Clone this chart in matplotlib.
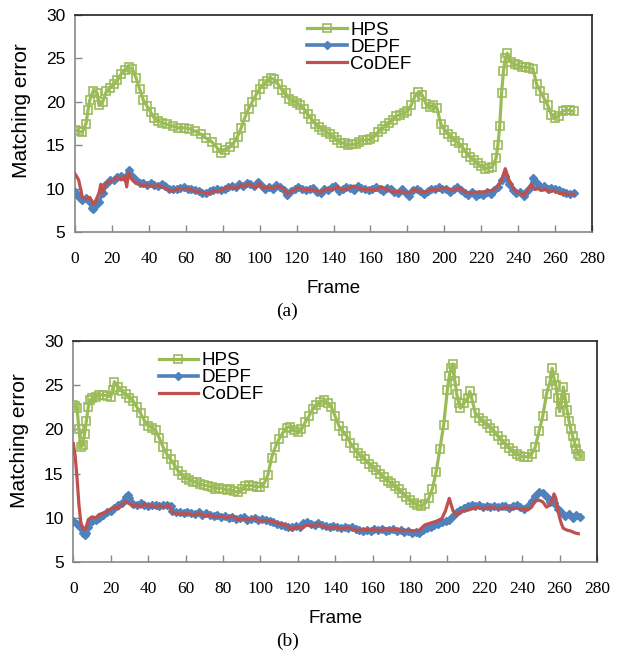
import matplotlib.pyplot as plt

# ---- panel (a) ----
hps_a_x = [0, 2, 4, 6, 7, 8, 10, 12, 13, 15, 17, 19, 21, 23, 25, 27, 29, 31, 33, 35, 37, 39, 41, 43, 45, 47,
           50, 53, 56, 59, 62, 65, 68, 71, 74, 77, 79, 81, 84, 86, 88, 90, 92, 94, 96, 98, 100, 102, 104, 106,
           108, 110, 112, 114, 116, 118, 120, 122, 124, 126, 128, 130, 132, 134, 136, 138, 140, 142, 144, 146,
           148, 150, 152, 154, 156, 158, 160, 162, 164, 166, 168, 170, 172, 174, 176, 178, 180, 182, 184, 186,
           188, 190, 192, 194, 196, 198, 200, 202, 204, 206, 208, 210, 212, 214, 216, 218, 220, 222, 224, 226,
           228, 229, 230, 231, 232, 233, 234, 236, 238, 240, 242, 244, 246, 248, 250, 252, 254, 256, 258, 260,
           262, 264, 266, 268, 270]
hps_a = [16.8, 16.6, 16.5, 17.5, 19.0, 20.2, 21.3, 21.0, 19.6, 20.0, 21.2, 21.6, 22.0, 22.5, 23.2, 23.7, 24.0,
         23.8, 22.8, 21.5, 20.2, 19.5, 18.8, 18.1, 17.8, 17.6, 17.4, 17.2, 17.0, 17.0, 16.9, 16.6, 16.3, 15.8,
         15.4, 14.7, 14.1, 14.5, 14.8, 15.3, 16.0, 17.0, 18.2, 19.2, 20.0, 20.8, 21.5, 22.0, 22.4, 22.7, 22.6,
         22.0, 21.4, 21.0, 20.3, 20.1, 19.9, 19.6, 19.2, 18.6, 18.0, 17.5, 17.1, 16.8, 16.5, 16.3, 15.9, 15.6,
         15.3, 15.2, 15.0, 15.1, 15.1, 15.4, 15.6, 15.6, 15.7, 16.0, 16.5, 16.9, 17.2, 17.6, 17.9, 18.4, 18.5,
         18.7, 18.9, 19.6, 20.6, 21.1, 20.8, 19.8, 19.4, 19.6, 19.3, 17.5, 16.8, 16.3, 15.9, 15.5, 15.2, 14.7,
         14.1, 13.6, 13.3, 12.9, 12.6, 12.3, 12.4, 12.5, 13.5, 15.0, 17.2, 21.0, 23.5, 25.0, 25.6, 24.6, 24.3,
         24.2, 24.0, 24.0, 23.9, 23.8, 22.0, 21.2, 20.4, 19.6, 18.5, 18.1, 18.4, 18.9, 19.1, 19.0, 18.9]

depf_a_x = [0, 2, 4, 6, 8, 9, 10, 11, 13, 15, 17, 19, 21, 23, 25, 27, 29, 31, 33, 35, 37, 39, 41, 43, 45, 47,
            49, 51, 53, 55, 57, 59, 61, 63, 65, 67, 69, 71, 73, 75, 77, 79, 81, 83, 85, 87, 89, 91, 93, 95, 97,
            99, 101, 103, 105, 107, 109, 111, 113, 115, 117, 119, 121, 123, 125, 127, 129, 131, 133, 135, 137,
            139, 141, 143, 145, 147, 149, 151, 153, 155, 157, 159, 161, 163, 165, 167, 169, 171, 173, 175, 177,
            179, 181, 183, 185, 187, 189, 191, 193, 195, 197, 199, 201, 203, 205, 207, 209, 211, 213, 215, 217,
            219, 221, 223, 225, 227, 229, 231, 233, 235, 237, 239, 241, 243, 245, 247, 248, 250, 252, 254, 256,
            258, 260, 262, 264, 266, 268, 270]
depf_a = [9.6, 9.0, 8.7, 8.9, 8.5, 7.8, 7.6, 8.0, 8.5, 9.5, 10.5, 11.0, 11.0, 11.3, 11.5, 11.2, 12.1, 11.4, 11.0,
          10.7, 10.6, 10.4, 10.6, 10.4, 10.3, 10.5, 10.3, 10.0, 9.9, 10.0, 10.1, 10.2, 10.0, 10.0, 9.8, 9.7, 9.5,
          9.5, 9.7, 9.8, 9.9, 9.8, 10.0, 10.2, 10.3, 10.2, 10.5, 10.3, 10.6, 10.5, 10.3, 10.8, 10.3, 10.0, 10.2,
          10.0, 10.4, 10.2, 9.8, 9.3, 9.7, 10.0, 10.2, 10.0, 9.8, 10.0, 10.1, 9.6, 9.5, 10.0, 9.8, 10.2, 10.3,
          9.7, 10.0, 10.2, 10.1, 9.8, 10.3, 10.1, 10.0, 9.8, 10.0, 10.2, 9.9, 9.7, 10.1, 9.9, 9.6, 9.5, 9.9, 9.5,
          9.2, 9.8, 10.0, 9.7, 9.4, 9.7, 10.0, 9.9, 10.2, 9.9, 10.0, 9.6, 10.0, 10.2, 9.8, 9.5, 9.3, 9.6, 9.2,
          9.4, 9.3, 9.6, 9.4, 9.8, 10.2, 11.0, 11.5, 10.5, 9.8, 9.5, 9.6, 9.2, 9.7, 10.2, 11.2, 10.6, 10.2, 10.3,
          10.0, 10.1, 9.9, 9.8, 9.6, 9.5, 9.4, 9.5]

codef_a_x = [0, 2, 3, 4, 6, 8, 10, 11, 13, 14, 15, 17, 19, 21, 23, 25, 27, 28, 29, 31, 33, 35, 37, 39, 41, 43,
             45, 47, 49, 51, 53, 55, 57, 60, 63, 66, 69, 72, 75, 78, 81, 84, 87, 90, 92, 94, 96, 98, 100, 102,
             104, 107, 110, 113, 115, 118, 121, 124, 127, 130, 133, 136, 139, 142, 145, 148, 151, 154, 157, 160,
             163, 166, 169, 172, 175, 178, 181, 184, 187, 190, 193, 196, 199, 202, 205, 208, 211, 214, 217, 220,
             223, 226, 229, 231, 233, 235, 237, 239, 241, 243, 245, 247, 249, 251, 253, 255, 257, 259, 261, 263,
             265, 267, 269, 270]
codef_a = [11.7, 11.0, 10.0, 9.0, 8.8, 9.0, 8.2, 8.5, 9.5, 10.5, 9.5, 10.7, 10.8, 11.0, 11.3, 11.0, 11.5, 10.2,
           11.8, 11.0, 10.6, 10.5, 10.3, 10.5, 10.3, 10.2, 10.4, 10.2, 10.0, 9.8, 9.7, 9.9, 10.0, 10.0, 9.9, 9.6,
           9.6, 9.4, 9.7, 9.7, 10.0, 10.2, 10.0, 10.4, 10.2, 10.6, 10.3, 10.1, 10.6, 10.0, 10.2, 10.0, 10.3, 10.0,
           9.4, 9.8, 10.1, 9.9, 9.9, 9.8, 9.6, 10.0, 9.9, 10.2, 9.9, 10.0, 10.3, 10.0, 9.9, 9.9, 9.8, 10.2, 9.9,
           9.6, 9.7, 9.6, 9.5, 9.9, 9.6, 9.6, 9.9, 9.8, 10.1, 10.0, 9.8, 10.1, 9.6, 9.5, 9.6, 9.6, 9.7, 9.8, 10.3,
           11.0, 12.3, 11.0, 10.2, 9.6, 9.5, 9.2, 9.8, 10.5, 9.9, 10.0, 9.8, 9.9, 9.6, 9.8, 9.6, 9.4, 9.5, 9.3,
           9.4, 9.3]

# ---- panel (b) ----
hps_b_x = [0, 1, 2, 3, 4, 5, 6, 7, 8, 9, 10, 12, 14, 16, 18, 20, 21, 22, 24, 26, 28, 30, 32, 34, 36, 38, 40,
           42, 44, 46, 48, 50, 52, 54, 56, 58, 60, 62, 64, 66, 68, 70, 72, 74, 76, 78, 80, 82, 84, 86, 88, 90,
           92, 94, 96, 98, 100, 102, 104, 106, 108, 110, 112, 114, 116, 118, 120, 122, 124, 126, 128, 130, 132,
           134, 136, 138, 140, 142, 144, 146, 148, 150, 152, 154, 156, 158, 160, 162, 164, 166, 168, 170, 172,
           174, 176, 178, 180, 182, 184, 186, 188, 190, 192, 194, 196, 198, 200, 201, 202, 203, 204, 205, 206,
           207, 209, 211, 212, 213, 215, 217, 219, 221, 223, 225, 227, 229, 231, 233, 235, 237, 239, 241, 243,
           245, 247, 249, 251, 253, 255, 256, 257, 258, 259, 260, 261, 262, 263, 264, 265, 266, 267, 268, 269,
           270, 271]
hps_b = [22.8, 22.6, 22.4, 20.0, 18.0, 18.2, 19.5, 21.0, 22.5, 23.3, 23.5, 23.7, 23.9, 23.9, 23.8, 23.7, 24.5,
         25.4, 24.8, 24.3, 24.0, 23.6, 23.2, 22.5, 21.8, 21.0, 20.4, 20.2, 19.9, 19.0, 18.0, 17.2, 16.6, 16.0,
         15.3, 14.8, 14.5, 14.3, 14.1, 14.0, 13.8, 13.7, 13.6, 13.5, 13.3, 13.4, 13.3, 13.1, 13.2, 13.0, 12.9,
         13.2, 13.6, 13.7, 13.6, 13.5, 13.5, 13.9, 14.8, 16.8, 18.0, 18.9, 19.6, 20.2, 20.3, 19.9, 19.7, 20.0,
         20.8, 21.5, 22.3, 22.8, 23.1, 23.3, 23.0, 22.5, 21.5, 20.4, 19.8, 19.3, 18.5, 17.9, 17.3, 17.0, 16.6,
         16.1, 15.8, 15.4, 15.0, 14.6, 14.2, 13.9, 13.6, 13.2, 12.8, 12.4, 12.0, 11.7, 11.4, 11.3, 11.6, 12.2,
         13.3, 15.2, 17.8, 20.5, 24.5, 26.0, 27.0, 27.4, 25.5, 24.0, 23.0, 22.4, 23.0, 23.6, 24.3, 23.5, 21.8,
         21.3, 20.9, 20.6, 20.2, 19.8, 19.2, 18.8, 18.3, 17.9, 17.5, 17.2, 17.0, 16.9, 16.9, 17.2, 18.0, 19.8,
         21.5, 24.0, 25.5, 26.9, 25.8, 25.0, 23.5, 22.0, 23.0, 24.8, 23.5, 22.2, 21.0, 20.0, 19.2, 18.5, 17.8,
         17.2, 17.0]

depf_b_x = [0, 2, 4, 5, 6, 7, 8, 10, 12, 14, 16, 18, 20, 22, 24, 26, 28, 29, 30, 32, 34, 36, 38, 40, 42, 44, 46,
            48, 50, 52, 53, 55, 57, 59, 61, 63, 65, 67, 69, 71, 73, 75, 77, 79, 81, 83, 85, 87, 89, 91, 93, 95,
            97, 99, 101, 103, 105, 107, 109, 111, 113, 115, 117, 119, 121, 123, 125, 127, 129, 131, 133, 135,
            137, 139, 141, 143, 145, 147, 149, 151, 153, 155, 157, 159, 161, 163, 165, 167, 169, 171, 173, 175,
            177, 179, 181, 183, 185, 187, 189, 191, 193, 195, 197, 199, 201, 203, 205, 207, 209, 211, 213, 215,
            217, 219, 221, 223, 225, 227, 229, 231, 233, 235, 237, 239, 241, 243, 245, 247, 249, 251, 253, 255,
            257, 259, 261, 263, 265, 267, 269, 271]
depf_b = [9.6, 9.3, 8.8, 8.3, 8.0, 8.3, 9.0, 9.6, 9.8, 10.0, 10.3, 10.6, 10.8, 11.1, 11.5, 11.7, 12.3, 12.6,
          12.2, 11.6, 11.4, 11.7, 11.5, 11.3, 11.5, 11.4, 11.3, 11.5, 11.4, 11.3, 10.8, 10.6, 10.6, 10.5, 10.6,
          10.5, 10.4, 10.6, 10.3, 10.5, 10.3, 10.2, 10.3, 10.1, 10.2, 10.0, 10.1, 9.9, 10.0, 10.1, 9.8, 9.9,
          10.0, 9.8, 9.9, 9.7, 9.6, 9.5, 9.3, 9.2, 9.1, 9.0, 8.9, 9.1, 9.0, 9.4, 9.5, 9.3, 9.2, 9.4, 9.2, 9.1,
          9.0, 9.1, 8.9, 8.8, 9.0, 8.8, 8.9, 8.7, 8.6, 8.5, 8.6, 8.5, 8.7, 8.6, 8.7, 8.5, 8.6, 8.7, 8.5, 8.6,
          8.4, 8.5, 8.3, 8.4, 8.3, 8.6, 8.8, 9.0, 9.2, 9.3, 9.5, 9.6, 9.8, 10.2, 10.6, 10.9, 11.1, 11.3, 11.4,
          11.3, 11.4, 11.2, 11.3, 11.2, 11.3, 11.2, 11.3, 11.3, 11.1, 11.3, 11.4, 11.2, 11.0, 11.3, 11.9, 12.5,
          12.9, 12.8, 12.3, 11.8, 11.7, 11.0, 10.7, 10.2, 10.4, 10.0, 10.3, 10.1]

codef_b_x = [0, 1, 2, 3, 4, 5, 6, 7, 8, 10, 12, 14, 16, 18, 20, 22, 24, 26, 28, 30, 32, 34, 36, 38, 40, 42, 44,
             46, 48, 50, 51, 53, 55, 58, 61, 64, 67, 70, 73, 76, 79, 82, 85, 88, 91, 94, 97, 100, 103, 106, 109,
             112, 115, 117, 119, 122, 125, 128, 131, 134, 137, 140, 143, 146, 149, 152, 155, 158, 161, 164, 167,
             170, 173, 176, 179, 182, 185, 188, 191, 194, 197, 199, 201, 203, 205, 207, 210, 213, 216, 219, 222,
             225, 228, 231, 234, 237, 240, 243, 245, 247, 249, 251, 253, 255, 256, 257, 258, 259, 260, 261, 262,
             264, 266, 268, 270]
codef_b = [18.4, 17.0, 14.5, 11.5, 9.5, 8.8, 8.6, 9.0, 9.8, 10.1, 10.0, 10.4, 10.5, 10.7, 11.0, 11.2, 11.0,
           11.5, 11.8, 11.6, 11.3, 11.5, 11.2, 11.6, 11.3, 11.4, 11.2, 11.4, 11.2, 11.3, 11.5, 10.6, 10.5, 10.4,
           10.5, 10.3, 10.5, 10.2, 10.3, 10.1, 10.2, 10.0, 10.2, 9.8, 9.9, 9.8, 10.0, 9.6, 9.7, 9.6, 9.4, 9.3,
           9.0, 8.6, 9.0, 8.8, 9.2, 9.0, 9.3, 9.0, 8.8, 9.0, 8.7, 8.9, 8.8, 8.5, 8.7, 8.6, 8.7, 8.5, 8.8, 8.6,
           8.7, 8.5, 8.6, 8.5, 8.6, 9.2, 9.4, 9.6, 9.9, 10.8, 12.2, 10.8, 10.3, 10.7, 10.8, 11.0, 11.2, 11.0,
           11.2, 11.1, 11.0, 11.2, 11.0, 11.1, 11.0, 10.9, 11.2, 11.9, 12.0, 11.8, 11.2, 11.5, 12.0, 12.7, 12.2,
           11.0, 10.0, 9.3, 8.8, 8.6, 8.5, 8.3, 8.2]

series_names = ["HPS", "DEPF", "CoDEF"]
xticks = list(range(0, 281, 20))
yticks = [5, 10, 15, 20, 25, 30]

green = "#9BBB59"
blue = "#4F81BD"
red = "#C0504D"

plt.rcParams['font.family'] = ['Liberation Sans', 'DejaVu Sans']

fig = plt.figure(figsize=(6.26, 6.53), dpi=100)


def draw(ax, hx, hy, dx, dy, cx, cy, leg_xy, ylab_y, caption):
    ax.plot(hx, hy, color=green, lw=2.3, marker='s', ms=6, mfc='none', mec=green, mew=1.2,
            label=series_names[0], zorder=3)
    ax.plot(dx, dy, color=blue, lw=2.6, marker='D', ms=4, mfc=blue, mec=blue,
            label=series_names[1], zorder=4)
    ax.plot(cx, cy, color=red, lw=2.3, label=series_names[2], zorder=5)
    ax.set_xlim(0, 280)
    ax.set_ylim(5, 30)
    ax.set_xticks(xticks)
    ax.set_yticks(yticks)
    ax.set_xticklabels([str(t) for t in xticks], family='Liberation Serif', fontsize=12.5)
    ax.set_yticklabels([str(t) for t in yticks], fontsize=12.5)
    ax.tick_params(direction='in', length=5, color='#888888', width=1)
    ax.tick_params(axis='x', pad=14)
    ax.tick_params(axis='y', pad=7)
    for s in ['left', 'bottom']:
        ax.spines[s].set_color('#888888')
        ax.spines[s].set_linewidth(1.2)
    for s in ['top', 'right']:
        ax.spines[s].set_color('#222222')
        ax.spines[s].set_linewidth(1.2)
    ax.set_xlabel("Frame", fontsize=13.5, labelpad=9)
    ax.set_ylabel("Matching error", fontsize=15)
    ax.yaxis.set_label_coords(-0.085, ylab_y)
    ax.legend(loc='upper left', bbox_to_anchor=leg_xy, frameon=False, fontsize=13.5,
              handlelength=2.1, handletextpad=0.2, labelspacing=0.0, borderpad=0, borderaxespad=0)
    ax.annotate(caption, xy=(0.41, 0), xycoords='axes fraction', xytext=(0, -57),
                textcoords='offset points', ha='center', va='center',
                family='Liberation Serif', fontsize=14)


ax1 = fig.add_axes([0.1198, 0.6447, 0.826, 0.3323])
draw(ax1, hps_a_x, hps_a, depf_a_x, depf_a, codef_a_x, codef_a, (0.449, 0.97), 0.56, "(a)")

ax2 = fig.add_axes([0.1171, 0.1394, 0.8366, 0.3384])
draw(ax2, hps_b_x, hps_b, depf_b_x, depf_b, codef_b_x, codef_b, (0.163, 0.95), 0.55, "(b)")

fig.savefig("out.png", dpi=100)
